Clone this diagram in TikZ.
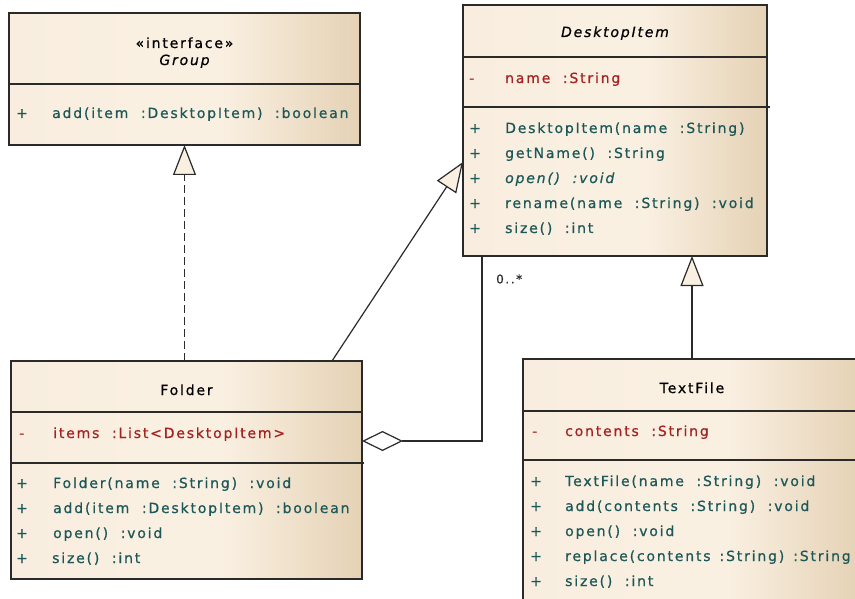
\documentclass[tikz,border=0pt]{standalone}
\usepackage{fontspec}
\setmainfont{DejaVu Sans}[LetterSpace=13, FakeBold=0.7]
\usetikzlibrary{arrows.meta,calc}
\definecolor{umlcream}{HTML}{FAF0E2}
\definecolor{umlcreamL}{HTML}{F8EDDE}
\definecolor{umltan}{HTML}{E5D2B5}
\definecolor{umlteal}{HTML}{1D5858}
\definecolor{umlred}{HTML}{A52222}
\definecolor{umlline}{HTML}{2A2A2A}
\pgfdeclarehorizontalshading{umlshade}{100bp}{color(0bp)=(umlcreamL); color(25bp)=(umlcreamL); color(45bp)=(umlcream); color(55bp)=(umlcream); color(75bp)=(umltan); color(100bp)=(umltan)}
\begin{document}
\begin{tikzpicture}[x=1pt,y=-1pt,
  umlbox/.style={draw=umlline, line width=1.2pt, shading=umlshade, inner sep=0pt, outer sep=0pt},
  sepline/.style={draw=umlline, line width=1.2pt},
  basefont/.style={font=\fontsize{14}{16}\selectfont, inner sep=0pt},
  mtxt/.style={basefont, anchor=base west, text=umlteal},
  atxt/.style={basefont, anchor=base west, text=umlred},
  ttl/.style={basefont, anchor=base, text=black},
  conn/.style={draw=umlline, line width=1.2pt},
  gen/.style={conn, -{Triangle[length=30pt, width=23pt, fill=umlcream]}},
  real/.style={gen, dash pattern=on 8pt off 4pt},
  agg/.style={conn, -{Diamond[length=41pt, width=20pt, fill=white]}},
  mult/.style={font=\fontsize{12}{14}\selectfont, inner sep=0pt, anchor=west, text=umlline}
]
\useasboundingbox (0,0) rectangle (855,599);
\clip (0,0) rectangle (855,599);

% ---------- Group ----------
\node[umlbox, minimum width=351pt, minimum height=132pt] (group) at (184.5,79) {};
\draw[sepline] (9,84) -- (360,84);
\node[ttl] (gst) at (184.5,48) {«interface»};
\node[ttl] (gname) at (184.5,65) {\itshape Group};
\node[mtxt] (gp1) at (16,118) {+};
\node[mtxt] (gm1) at (52,118) {add(item~ :DesktopItem)~ :boolean};

% ---------- DesktopItem ----------
\node[umlbox, minimum width=304pt, minimum height=251pt] (desk) at (615,130.5) {};
\draw[sepline] (463,57) -- (767,57);
\draw[sepline] (463,107) -- (770,107);
\node[ttl] (dname) at (615,37) {\itshape DesktopItem};
\node[atxt] (dd1) at (469,83) {-};
\node[atxt] (da1) at (505,83) {name~ :String};
\node[mtxt] (dp1) at (469,133) {+};
\node[mtxt] (dm1) at (505,133) {DesktopItem(name~ :String)};
\node[mtxt] (dp2) at (469,158) {+};
\node[mtxt] (dm2) at (505,158) {getName()~ :String};
\node[mtxt] (dp3) at (469,183) {+};
\node[mtxt] (dm3) at (505,183) {\itshape open()~ :void};
\node[mtxt] (dp4) at (469,208) {+};
\node[mtxt] (dm4) at (505,208) {rename(name~ :String)~ :void};
\node[mtxt] (dp5) at (469,233) {+};
\node[mtxt] (dm5) at (505,233) {size()~ :int};

% ---------- Folder ----------
\node[umlbox, minimum width=351pt, minimum height=218pt] (folder) at (186.5,470) {};
\draw[sepline] (11,412) -- (362,412);
\node[ttl] (fname) at (186.5,395) {Folder};
\node[atxt] (fd1) at (19,438) {-};
\node[atxt] (fa1) at (53,438) {items~ :List<DesktopItem>};
\draw[sepline] (11,463) -- (364,463);
\node[mtxt] (fp1) at (16,488) {+};
\node[mtxt] (fm1) at (53,488) {Folder(name~ :String)~ :void};
\node[mtxt] (fp2) at (16,513) {+};
\node[mtxt] (fm2) at (53,513) {add(item~ :DesktopItem)~ :boolean};
\node[mtxt] (fp3) at (16,538) {+};
\node[mtxt] (fm3) at (53,538) {open()~ :void};
\node[mtxt] (fp4) at (16,563) {+};
\node[mtxt] (fm4) at (52,563) {size()~ :int};

% ---------- TextFile ----------
\node[umlbox, minimum width=338pt, minimum height=266pt] (textfile) at (692,492) {};
\draw[sepline] (523,411) -- (861,411);
\draw[sepline] (523,460) -- (861,460);
\node[ttl] (tname) at (692,393) {TextFile};
\node[atxt] (td1) at (532,436) {-};
\node[atxt] (ta1) at (565,436) {contents~ :String};
\node[mtxt] (tp1) at (530,486) {+};
\node[mtxt] (tm1) at (565,486) {TextFile(name~ :String)~ :void};
\node[mtxt] (tp2) at (530,511) {+};
\node[mtxt] (tm2) at (565,511) {add(contents~ :String)~ :void};
\node[mtxt] (tp3) at (530,536) {+};
\node[mtxt] (tm3) at (565,536) {open()~ :void};
\node[mtxt] (tp4) at (530,561) {+};
\node[mtxt] (tm4) at (565,561) {replace(contents\hspace{9pt}:String)\hspace{9pt}:String};
\node[mtxt] (tp5) at (530,586) {+};
\node[mtxt] (tm5) at (565,586) {size()~ :int};

% ---------- connectors ----------
\draw[real] (folder.north -| group.south) -- (group.south);
\draw[gen] ([xshift=-30pt]folder.north east) -- ([yshift=-157pt]desk.north west);
\draw[gen] (textfile.north) -- (textfile.north |- desk.south);
\draw[agg] ([xshift=19pt]desk.south west) |- ([yshift=-80pt]folder.north east);
\node[mult] (multlabel) at (496,279) {0..*};
\end{tikzpicture}
\end{document}
